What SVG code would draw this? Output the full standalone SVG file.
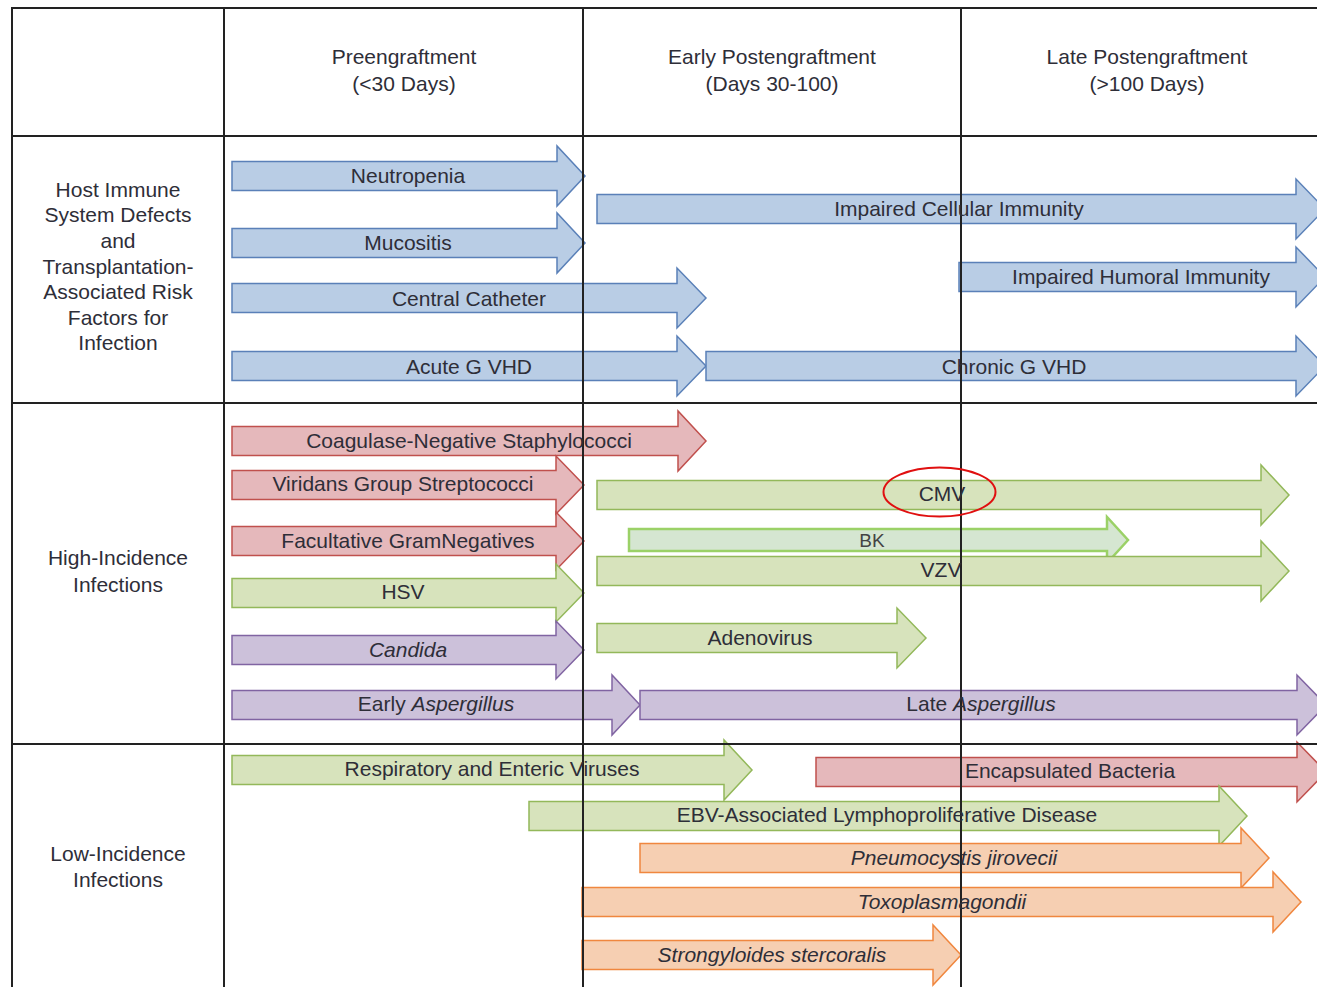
<svg xmlns="http://www.w3.org/2000/svg" width="1317" height="987" viewBox="0 0 1317 987">
<style>
text{font-family:"Liberation Sans",Arial,sans-serif;font-size:21px;fill:#2e2e38;text-anchor:middle}
.i{font-style:italic}
.blue{fill:#b9cde5;stroke:#5a80b8;stroke-width:1.5}
.red{fill:#e5b8bb;stroke:#c0504d;stroke-width:1.5}
.green{fill:#d7e3bc;stroke:#93b85a;stroke-width:1.5}
.purple{fill:#ccc1da;stroke:#8064a2;stroke-width:1.5}
.orange{fill:#f6cfb2;stroke:#f0873f;stroke-width:1.5}
.bk{fill:#d5e6d1;stroke:#9bd167;stroke-width:2.5}
.grid line{stroke:#222;stroke-width:2}
</style>
<rect width="1317" height="987" fill="#fff"/>

<g id="arrows">
<g id="neutropenia"><polygon class="blue" points="232,161.5 557,161.5 557,146 585,176 557,206 557,190.5 232,190.5"/></g>
<g id="mucositis"><polygon class="blue" points="232,228.5 557,228.5 557,213 585,243 557,273 557,257.5 232,257.5"/></g>
<g id="central-catheter"><polygon class="blue" points="232,283.5 677,283.5 677,268 706,298 677,328 677,312.5 232,312.5"/></g>
<g id="acute-gvhd"><polygon class="blue" points="232,351.5 677,351.5 677,336 706,366 677,396 677,380.5 232,380.5"/></g>
<g id="impaired-cellular"><polygon class="blue" points="597,194.5 1296,194.5 1296,179 1325,209 1296,239 1296,223.5 597,223.5"/></g>
<g id="impaired-humoral"><polygon class="blue" points="959,262.5 1296,262.5 1296,247 1325,277 1296,307 1296,291.5 959,291.5"/></g>
<g id="chronic-gvhd"><polygon class="blue" points="706,351.5 1296,351.5 1296,336 1325,366 1296,396 1296,380.5 706,380.5"/></g>

<g id="coagulase"><polygon class="red" points="232,426.5 678,426.5 678,411 706,441 678,471 678,455.5 232,455.5"/></g>
<g id="viridans"><polygon class="red" points="232,470.5 556,470.5 556,456 584,485 556,514 556,499.5 232,499.5"/></g>
<g id="facultative"><polygon class="red" points="232,526.5 556,526.5 556,512 584,541 556,570 556,555.5 232,555.5"/></g>
<g id="hsv"><polygon class="green" points="232,578.5 556,578.5 556,564 584,593 556,622 556,607.5 232,607.5"/></g>
<g id="candida"><polygon class="purple" points="232,635.5 556,635.5 556,621 584,650 556,679 556,664.5 232,664.5"/></g>
<g id="early-aspergillus"><polygon class="purple" points="232,690.5 612,690.5 612,675 640,705 612,735 612,719.5 232,719.5"/></g>
<g id="late-aspergillus"><polygon class="purple" points="640,690.5 1297,690.5 1297,675 1326,705 1297,735 1297,719.5 640,719.5"/></g>
<g id="cmv"><polygon class="green" points="597,480.5 1261,480.5 1261,465 1289,495 1261,525 1261,509.5 597,509.5"/></g>
<g id="bk"><polygon class="bk" points="629,529 1107,529 1107,517 1128,540 1107,563 1107,551 629,551"/></g>
<g id="vzv"><polygon class="green" points="597,556.5 1261,556.5 1261,541 1289,571 1261,601 1261,585.5 597,585.5"/></g>
<g id="adenovirus"><polygon class="green" points="597,623.5 897,623.5 897,608 926,638 897,668 897,652.5 597,652.5"/></g>

<g id="respiratory"><polygon class="green" points="232,755.5 724,755.5 724,740 752,770 724,800 724,784.5 232,784.5"/></g>
<g id="encapsulated"><polygon class="red" points="816,757.5 1297,757.5 1297,742 1326,772 1297,802 1297,786.5 816,786.5"/></g>
<g id="ebv"><polygon class="green" points="529,801.5 1219,801.5 1219,786 1247,816 1219,846 1219,830.5 529,830.5"/></g>
<g id="pneumocystis"><polygon class="orange" points="640,843.5 1241,843.5 1241,828 1269,858 1241,888 1241,872.5 640,872.5"/></g>
<g id="toxoplasma"><polygon class="orange" points="582,887.5 1273,887.5 1273,872 1301,902 1273,932 1273,916.5 582,916.5"/></g>
<g id="strongyloides"><polygon class="orange" points="582,940.5 933,940.5 933,925 961,955 933,985 933,969.5 582,969.5"/></g>
</g>

<g id="grid" class="grid">
<line x1="12" y1="8" x2="1317" y2="8"/>
<line x1="12" y1="136" x2="1317" y2="136"/>
<line x1="12" y1="403" x2="1317" y2="403"/>
<line x1="12" y1="744" x2="1317" y2="744"/>
<line x1="12" y1="7" x2="12" y2="987"/>
<line x1="224" y1="7" x2="224" y2="987"/>
<line x1="583" y1="7" x2="583" y2="987"/>
<line x1="961" y1="7" x2="961" y2="987"/>
</g>

<g id="cmv-highlight"><ellipse cx="939.5" cy="492" rx="56" ry="24.5" fill="none" stroke="#e01010" stroke-width="2"/></g>

<g id="labels">
<g id="header-pre"><text x="404" y="64">Preengraftment</text><text x="404" y="91">(&lt;30 Days)</text></g>
<g id="header-early"><text x="772" y="64">Early Postengraftment</text><text x="772" y="91">(Days 30-100)</text></g>
<g id="header-late"><text x="1147" y="64">Late Postengraftment</text><text x="1147" y="91">(&gt;100 Days)</text></g>
<g id="row-host"><text x="118" y="197">Host Immune</text><text x="118" y="222">System Defects</text><text x="118" y="248">and</text><text x="118" y="274">Transplantation-</text><text x="118" y="299">Associated Risk</text><text x="118" y="325">Factors for</text><text x="118" y="350">Infection</text></g>
<g id="row-high"><text x="118" y="565">High-Incidence</text><text x="118" y="592">Infections</text></g>
<g id="row-low"><text x="118" y="861">Low-Incidence</text><text x="118" y="887">Infections</text></g>

<text x="408" y="183">Neutropenia</text>
<text x="408" y="250">Mucositis</text>
<text x="469" y="306">Central Catheter</text>
<text x="469" y="374">Acute G VHD</text>
<text x="959" y="216">Impaired Cellular Immunity</text>
<text x="1141" y="284">Impaired Humoral Immunity</text>
<text x="1014" y="374">Chronic G VHD</text>
<text x="469" y="448">Coagulase-Negative Staphylococci</text>
<text x="403" y="491">Viridans Group Streptococci</text>
<text x="408" y="548">Facultative GramNegatives</text>
<text x="403" y="599">HSV</text>
<text x="408" y="657" class="i">Candida</text>
<text x="436" y="711">Early <tspan class="i">Aspergillus</tspan></text>
<text x="981" y="711">Late <tspan class="i">Aspergillus</tspan></text>
<text x="942" y="501">CMV</text>
<text x="872" y="547" style="font-size:19px;fill:#444">BK</text>
<text x="941" y="577">VZV</text>
<text x="760" y="645">Adenovirus</text>
<text x="492" y="776">Respiratory and Enteric Viruses</text>
<text x="1070" y="778">Encapsulated Bacteria</text>
<text x="887" y="822">EBV-Associated Lymphoproliferative Disease</text>
<text x="954" y="865" class="i">Pneumocystis jirovecii</text>
<text x="942" y="909" class="i">Toxoplasmagondii</text>
<text x="772" y="962" class="i">Strongyloides stercoralis</text>
</g>
</svg>
